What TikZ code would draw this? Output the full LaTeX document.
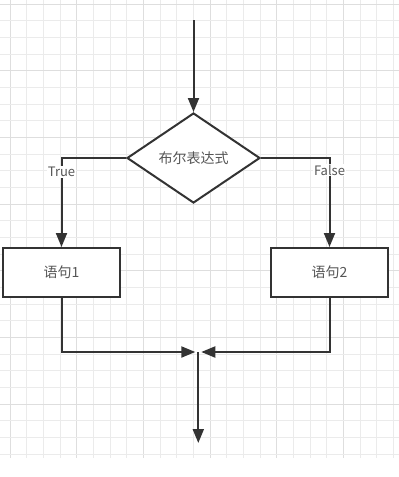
\documentclass[tikz,border=0pt]{standalone}
\usepackage{fontspec}
\setmainfont{Noto Sans CJK SC}
\usetikzlibrary{arrows.meta,shapes.geometric}
\definecolor{ink}{HTML}{333333}
\definecolor{txt}{HTML}{555555}
\definecolor{gridminor}{HTML}{EBEBEB}
\definecolor{gridmajor}{HTML}{DEDEDE}
\tikzset{
  gmin/.style={draw=gridminor,line width=0.8pt},
  gmaj/.style={draw=gridmajor,line width=1pt},
  shapebox/.style={draw=ink,line width=2pt,fill=white,text=txt,font=\fontsize{14pt}{16pt}\selectfont,inner sep=0pt},
  decision/.style={shapebox,diamond,aspect=1.48,minimum width=133pt,minimum height=90pt},
  stepbox/.style={shapebox,rectangle,minimum width=117pt,minimum height=49pt},
  arr/.style={draw=ink,line width=2pt,-{Triangle[length=14pt,width=11pt]}},
  lbl/.style={fill=white,text=txt,font=\fontsize{13pt}{14pt}\selectfont,inner sep=1pt}
}
\begin{document}
\begin{tikzpicture}[x=1pt,y=-1pt]
\useasboundingbox[fill=white] (0,0) rectangle (399,477);
% grid
\foreach \i in {0,...,23}{
  \pgfmathtruncatemacro{\m}{mod(\i,4)}
  \ifnum\m=0 \path[gmaj] ({10+16.667*\i},0) -- ({10+16.667*\i},458);
  \else \path[gmin] ({10+16.667*\i},0) -- ({10+16.667*\i},458); \fi
}
\foreach \j in {0,...,27}{
  \pgfmathtruncatemacro{\m}{mod(\j,4)}
  \ifnum\m=0 \path[gmaj] (0,{4+16.667*\j}) -- (399,{4+16.667*\j});
  \else \path[gmin] (0,{4+16.667*\j}) -- (399,{4+16.667*\j}); \fi
}
% nodes
\coordinate (start) at (193.5,20);
\node[decision] (d) at (193.5,158) {布尔表达式};
\node[stepbox] (b1) at (61.5,272.5) {语句1};
\node[stepbox] (b2) at (329.5,272.5) {语句2};
\coordinate (m) at (198.3,352);
\coordinate (end) at (198.3,443);
% connectors
\draw[arr] (start) -- (d.north);
\draw[arr] (d.west) -| (b1.north);
\draw[arr] (d.east) -| (b2.north);
\draw[arr] (b1.south) |- ([xshift=-3pt]m);
\draw[arr] (b2.south) |- ([xshift=3pt]m);
\draw[arr] (m) -- (end);
% labels
\node[lbl] (t) at (61.5,172) {True};
\node[lbl] (f) at (329.5,170) {False};
\end{tikzpicture}
\end{document}
